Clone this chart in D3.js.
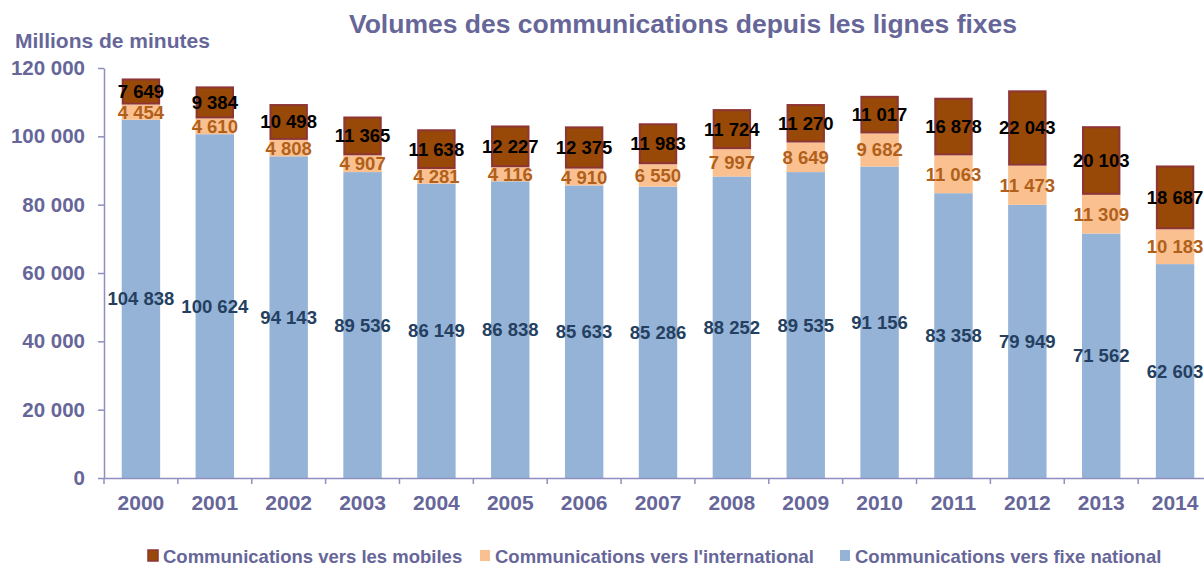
<!DOCTYPE html>
<html>
<head>
<meta charset="utf-8">
<script src="https://cdn.jsdelivr.net/npm/d3@7"></script>
<style>
  body { margin: 0; background: #fff; }
  svg { display: block; font-family: "Liberation Sans", Arial, sans-serif; font-weight: bold; }
</style>
</head>
<body>
<svg id="drawing_region"></svg>
<script>
// data
const years = ["2000", "2001", "2002", "2003", "2004", "2005", "2006", "2007",
               "2008", "2009", "2010", "2011", "2012", "2013", "2014"];
const fixeNational = [104838, 100624, 94143, 89536, 86149, 86838, 85633, 85286,
                      88252, 89535, 91156, 83358, 79949, 71562, 62603];
const international = [4454, 4610, 4808, 4907, 4281, 4116, 4910, 6550,
                       7997, 8649, 9682, 11063, 11473, 11309, 10183];
const mobiles = [7649, 9384, 10498, 11365, 11638, 12227, 12375, 11983,
                 11724, 11270, 11017, 16878, 22043, 20103, 18687];
const yTicks = [0, 20000, 40000, 60000, 80000, 100000, 120000];
const seriesNames = ["Communications vers les mobiles", "Communications vers l'international",
                     "Communications vers fixe national"];

const fmt = v => d3.format(",")(v).replace(/,/g, " ");

const width = 1204, height = 568;
const svg = d3.select('#drawing_region')
    .attr('width', width)
    .attr('height', height);

const axisColor = '#8E8EC0';
const textColor = '#666699';

const xscale = d3.scaleBand()
    .domain(years)
    .range([104, 1212])
    .paddingInner(0.48)
    .paddingOuter(0.24);

const yscale = d3.scaleLinear()
    .domain([0, 120000])
    .range([478, 68]);

const rows = years.map((y, i) => ({
    year: y,
    fixe: fixeNational[i],
    intl: international[i],
    mob: mobiles[i]
}));

const stack = d3.stack().keys(["fixe", "intl", "mob"]);
const layers = stack(rows);

const fills = { fixe: '#95B3D7', intl: '#FAC090', mob: '#984807' };
const labelColors = { fixe: '#243F60', intl: '#B0601A', mob: '#000000' };

// title and axis caption
svg.append('text')
    .attr('x', 683).attr('y', 33)
    .attr('text-anchor', 'middle')
    .style('font-size', '26.5px')
    .attr('fill', textColor)
    .text("Volumes des communications depuis les lignes fixes");

svg.append('text')
    .attr('x', 15).attr('y', 48)
    .style('font-size', '21px')
    .attr('fill', textColor)
    .text("Millions de minutes");

// bars
layers.forEach(layer => {
    const key = layer.key;
    svg.append('g').selectAll('rect').data(layer).enter()
        .append('rect')
        .attr('x', d => xscale(d.data.year) + (key === 'mob' ? 1 : 0))
        .attr('y', d => yscale(d[1]) + (key === 'mob' ? 1 : 0))
        .attr('width', xscale.bandwidth() - (key === 'mob' ? 2 : 0))
        .attr('height', d => yscale(d[0]) - yscale(d[1]) - (key === 'mob' ? 2 : 0))
        .attr('fill', fills[key])
        .attr('stroke', key === 'mob' ? '#8E3535' : 'none')
        .attr('stroke-width', 2);
});

// axes
const yaxis = d3.axisLeft(yscale)
    .tickValues(yTicks)
    .tickFormat(fmt)
    .tickSize(6)
    .tickSizeOuter(0);

const yg = svg.append('g')
    .attr('transform', 'translate(104,0)')
    .call(yaxis);
yg.select('.domain').attr('stroke', axisColor).attr('stroke-width', 1.5);
yg.selectAll('.tick line').attr('stroke', axisColor).attr('stroke-width', 1.5);
yg.selectAll('.tick text')
    .attr('x', -19)
    .attr('fill', textColor)
    .style('font-size', '20.5px')
    .style('font-family', '"Liberation Sans", Arial, sans-serif')
    .style('font-weight', 'bold');

const xaxis = d3.axisBottom(xscale).tickSize(0).tickSizeOuter(0);
const xg = svg.append('g')
    .attr('transform', 'translate(0,478)')
    .call(xaxis);
xg.select('.domain').attr('stroke', axisColor).attr('stroke-width', 1.5);
xg.selectAll('.tick text')
    .attr('y', 32)
    .attr('dy', null)
    .attr('fill', textColor)
    .style('font-size', '21px')
    .style('font-family', '"Liberation Sans", Arial, sans-serif')
    .style('font-weight', 'bold');

// category separators on the x axis
const step = xscale.step();
xg.selectAll('line.sep').data(years).enter()
    .append('line')
    .attr('class', 'sep')
    .attr('x1', d => xscale(d) - step * 0.24)
    .attr('x2', d => xscale(d) - step * 0.24)
    .attr('y1', 0).attr('y2', 6)
    .attr('stroke', axisColor)
    .attr('stroke-width', 1.5);

// value labels
layers.forEach(layer => {
    const key = layer.key;
    svg.append('g').selectAll('text').data(layer).enter()
        .append('text')
        .attr('x', d => xscale(d.data.year) + xscale.bandwidth() / 2)
        .attr('y', d => yscale((d[0] + d[1]) / 2))
        .attr('dy', '0.35em')
        .attr('text-anchor', 'middle')
        .attr('fill', labelColors[key])
        .style('font-size', '18.5px')
        .text(d => fmt(d[1] - d[0]));
});

// legend
const legendItems = [
    { name: seriesNames[0], fill: fills.mob, stroke: '#8E3535', x: 148 },
    { name: seriesNames[1], fill: fills.intl, stroke: 'none', x: 480 },
    { name: seriesNames[2], fill: fills.fixe, stroke: 'none', x: 840 }
];
const legend = svg.append('g');
legendItems.forEach(item => {
    legend.append('rect')
        .attr('x', item.x).attr('y', 550)
        .attr('width', 10).attr('height', 11)
        .attr('fill', item.fill)
        .attr('stroke', item.stroke)
        .attr('stroke-width', 1.5);
    legend.append('text')
        .attr('x', item.x + 15).attr('y', 563)
        .attr('fill', textColor)
        .style('font-size', '18.5px')
        .text(item.name);
});
</script>
</body>
</html>
